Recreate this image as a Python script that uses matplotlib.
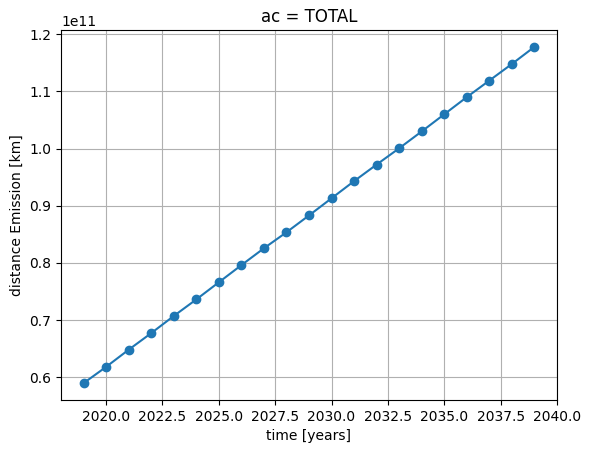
import matplotlib
matplotlib.use("Agg")
import matplotlib.pyplot as plt

years = list(range(2019, 2040))
distance = [
    0.5895, 0.618, 0.648, 0.677, 0.707, 0.736, 0.766, 0.796, 0.8255, 0.8535,
    0.883, 0.913, 0.943, 0.972, 1.0005, 1.030, 1.060, 1.090, 1.119, 1.148, 1.178,
]
distance = [v * 1e11 for v in distance]

fig = plt.figure(figsize=(5.91, 4.53), dpi=100)
ax = fig.add_axes([61 / 591, 53 / 453, 496 / 591, 370 / 453])
ax.plot(years, distance, marker="o", color="#1f77b4")
ax.set_xlabel("time [years]")
ax.set_ylabel("distance Emission [km]")
ax.set_title("ac = TOTAL")
ax.grid(True)
fig.savefig("out.png", dpi=100)
plt.close(fig)
